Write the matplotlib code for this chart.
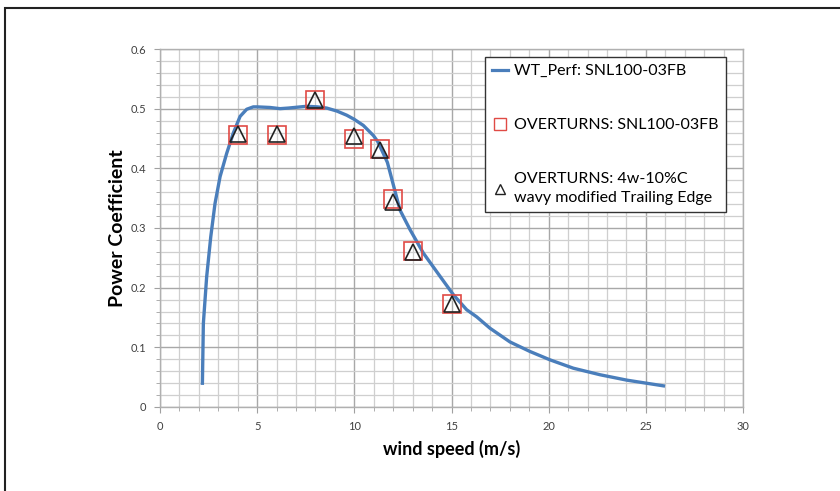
import matplotlib.pyplot as plt
import matplotlib.patches as mpatches
from matplotlib.ticker import MultipleLocator, FuncFormatter
from matplotlib.lines import Line2D

# WT_Perf power curve
wt_speed = [2.18, 2.23, 2.40, 2.61, 2.83, 3.09, 3.43, 3.77, 4.12, 4.46, 4.80,
            5.0, 5.66, 6.18, 6.6, 7.55, 8.1, 8.58, 9.1, 9.61, 10.0, 10.46,
            10.98, 11.2, 11.49, 11.7, 11.92, 12.35, 12.87, 13.55, 14.41, 15.1,
            15.78, 16.3, 16.98, 18.01, 19.04, 20.07, 21.27, 22.65, 24.02, 25.99]
wt_cp = [0.037, 0.140, 0.218, 0.285, 0.341, 0.386, 0.425, 0.459, 0.487, 0.499,
         0.503, 0.503, 0.502, 0.500, 0.501, 0.504, 0.503, 0.501, 0.496, 0.489,
         0.482, 0.472, 0.455, 0.445, 0.425, 0.410, 0.383, 0.330, 0.297, 0.258,
         0.219, 0.188, 0.163, 0.151, 0.132, 0.109, 0.093, 0.079, 0.065, 0.054,
         0.045, 0.035]

# OVERTURNS results
ov_speed = [4, 6, 8, 10, 11.3, 12, 13, 15]
ov_base_cp = [0.456, 0.456, 0.515, 0.449, 0.432, 0.349, 0.262, 0.173]
ov_wavy_cp = [0.457, 0.457, 0.515, 0.455, 0.430, 0.343, 0.260, 0.173]

plt.rcParams['font.family'] = ['Lato', 'DejaVu Sans']

fig = plt.figure(figsize=(8.4, 4.91), dpi=100)
ax = fig.add_axes([0.1905, 0.1711, 0.6940, 0.7291])

blue = '#4a7ebb'
red = '#e04a45'

ax.plot(wt_speed, wt_cp, color=blue, lw=2.4, solid_capstyle='butt',
        solid_joinstyle='round', zorder=3)
ax.plot(ov_speed, ov_base_cp, ls='none', marker='s', ms=13, mfc='none',
        mec=red, mew=1.2, zorder=4)
ax.plot(ov_speed, ov_wavy_cp, ls='none', marker='^', ms=11, mfc='none',
        mec='#222222', mew=1.2, zorder=5)

ax.set_xlim(0, 30)
ax.set_ylim(0, 0.6)
ax.xaxis.set_major_locator(MultipleLocator(5))
ax.xaxis.set_minor_locator(MultipleLocator(1))
ax.yaxis.set_major_locator(MultipleLocator(0.1))
ax.yaxis.set_minor_locator(MultipleLocator(0.02))
ax.yaxis.set_major_formatter(FuncFormatter(lambda v, p: '0' if abs(v) < 1e-9 else f'{v:.1f}'))

ax.grid(which='major', color='#a8a8a8', lw=1.0)
ax.grid(which='minor', color='#cfcfcf', lw=0.9)
ax.set_axisbelow(True)

for side in ['left', 'bottom', 'top', 'right']:
    ax.spines[side].set_color('#b0b0b0')
    ax.spines[side].set_linewidth(1.0)

ax.tick_params(which='both', direction='out', color='#a0a0a0', labelsize=8,
               labelcolor='#404040')
ax.tick_params(which='major', length=4, pad=6)
ax.tick_params(which='minor', length=3)

ax.set_xlabel('wind speed (m/s)', fontsize=13, fontweight='bold', labelpad=6)
ax.set_ylabel('Power Coefficient', fontsize=14, fontweight='bold', labelpad=3)

handles = [
    Line2D([], [], color=blue, lw=2.3),
    Line2D([], [], ls='none', marker='s', ms=8, mfc='none', mec=red, mew=1.0),
    Line2D([], [], ls='none', marker='^', ms=7, mfc='none', mec='#222222', mew=1.0),
]
labels = ['WT_Perf: SNL100-03FB', 'OVERTURNS: SNL100-03FB',
          'OVERTURNS: 4w-10%C\nwavy modified Trailing Edge']
leg = ax.legend(handles, labels, loc='upper left', bbox_to_anchor=(0.557, 0.978),
                fontsize=11.5, frameon=True, fancybox=False, edgecolor='#333333',
                framealpha=1, handlelength=1.0, handletextpad=0.4,
                labelspacing=2.5, borderpad=0.45, borderaxespad=0)
leg.get_frame().set_linewidth(1.0)
leg.get_texts()[2].set_linespacing(1.45)

# outer border
fig.patches.append(mpatches.Rectangle((5 / 840, -0.1), 1.2, 1 - 8 / 491 + 0.1,
                                      transform=fig.transFigure, fill=False,
                                      edgecolor='#222222', lw=1.5))

fig.savefig('out.png', dpi=100)
